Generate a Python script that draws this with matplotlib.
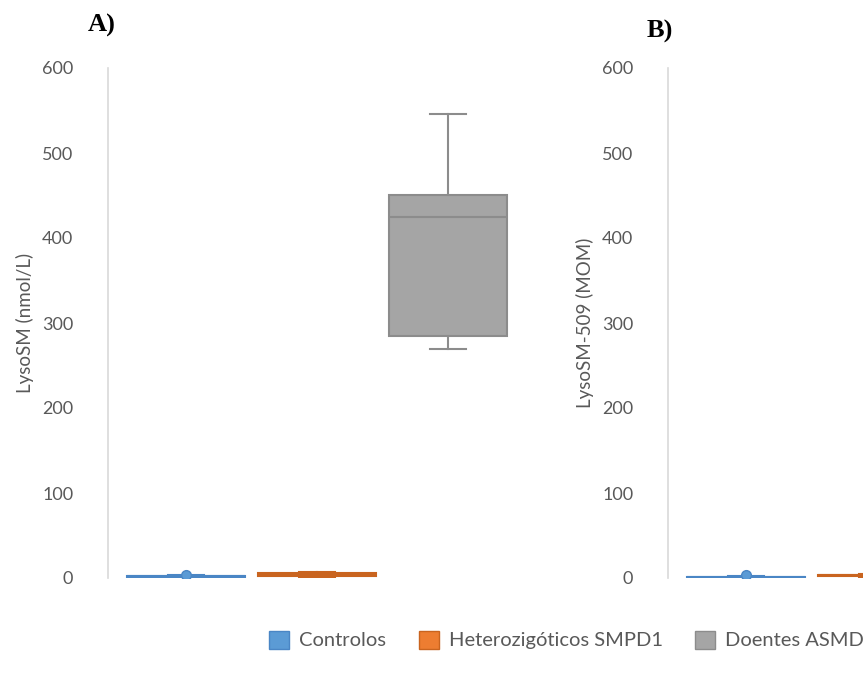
import matplotlib.pyplot as plt

# Group names (legend) and colours
groups = ['Controlos', 'Heterozigóticos SMPD1', 'Doentes ASMD']
fills = ['#5B9BD5', '#ED7D31', '#A5A5A5']
edges = ['#4A86C5', '#C9641F', '#8C8C8C']

# Panel A: LysoSM (nmol/L) - box statistics
a_whislo = [0.5, 1, 269]
a_q1 = [1, 2, 285]
a_med = [2, 5, 425]
a_q3 = [2.5, 6, 451]
a_whishi = [3, 7.5, 546]
a_point = 4  # marker on the controls box

# Panel B: LysoSM-509 (MOM) - only the first two boxes are visible
b_whislo = [0.3, 1]
b_q1 = [0.5, 2]
b_med = [1, 3]
b_q3 = [1.5, 4]
b_whishi = [2, 5]
b_point = 3

yticks = [0, 100, 200, 300, 400, 500, 600]

plt.rcParams['font.family'] = ['Lato', 'DejaVu Sans']

fig = plt.figure(figsize=(8.63, 6.78), dpi=100)
W, H = 863, 678


def panel(left_px, ylabel, whislo, q1, med, q3, whishi, point):
    ax = fig.add_axes([left_px / W, 100 / H, 418 / W, 510 / H])
    stats = []
    for i in range(len(med)):
        stats.append(dict(whislo=whislo[i], q1=q1[i], med=med[i],
                          q3=q3[i], whishi=whishi[i], fliers=[]))
    for i, s in enumerate(stats):
        ax.bxp([s], positions=[i + 1], widths=0.9, capwidths=0.275,
               patch_artist=True, showfliers=False,
               boxprops=dict(facecolor=fills[i], edgecolor=edges[i], linewidth=1.5),
               medianprops=dict(color=edges[i], linewidth=1.5),
               whiskerprops=dict(color=edges[i], linewidth=1.5),
               capprops=dict(color=edges[i], linewidth=1.5))
    ax.plot(1, point, 'o', color=fills[0], markeredgecolor=edges[0],
            markersize=7, zorder=5)
    ax.set_xlim(0.405, 3.595)
    ax.set_ylim(0, 600)
    ax.set_yticks(yticks)
    ax.set_xticks([])
    ax.tick_params(axis='y', length=0, labelsize=13, labelcolor='#595959', pad=25)
    for s in ['top', 'right', 'bottom']:
        ax.spines[s].set_visible(False)
    ax.spines['left'].set_color('#D9D9D9')
    ax.spines['left'].set_linewidth(1.2)
    ax.set_ylabel(ylabel, fontsize=13.5, color='#595959', labelpad=6)
    return ax


panel(108, 'LysoSM (nmol/L)', a_whislo, a_q1, a_med, a_q3, a_whishi, a_point)
panel(668, 'LysoSM-509 (MOM)', b_whislo, b_q1, b_med, b_q3, b_whishi, b_point)

fig.text(88 / W, 1 - 25 / H, 'A)', family='Liberation Serif', weight='bold',
         fontsize=19, va='center', ha='left')
fig.text(647 / W, 1 - 31 / H, 'B)', family='Liberation Serif', weight='bold',
         fontsize=19, va='center', ha='left')

handles = [plt.Rectangle((0, 0), 1, 1, facecolor=fills[i], edgecolor=edges[i])
           for i in range(3)]
fig.legend(handles, groups, loc='center left', bbox_to_anchor=(251 / W, 1 - 640 / H),
           ncol=3, frameon=False, fontsize=14.5, labelcolor='#595959',
           handlelength=1.0, handleheight=1.0, handletextpad=0.5, columnspacing=1.6)

fig.savefig('out.png', dpi=100)
